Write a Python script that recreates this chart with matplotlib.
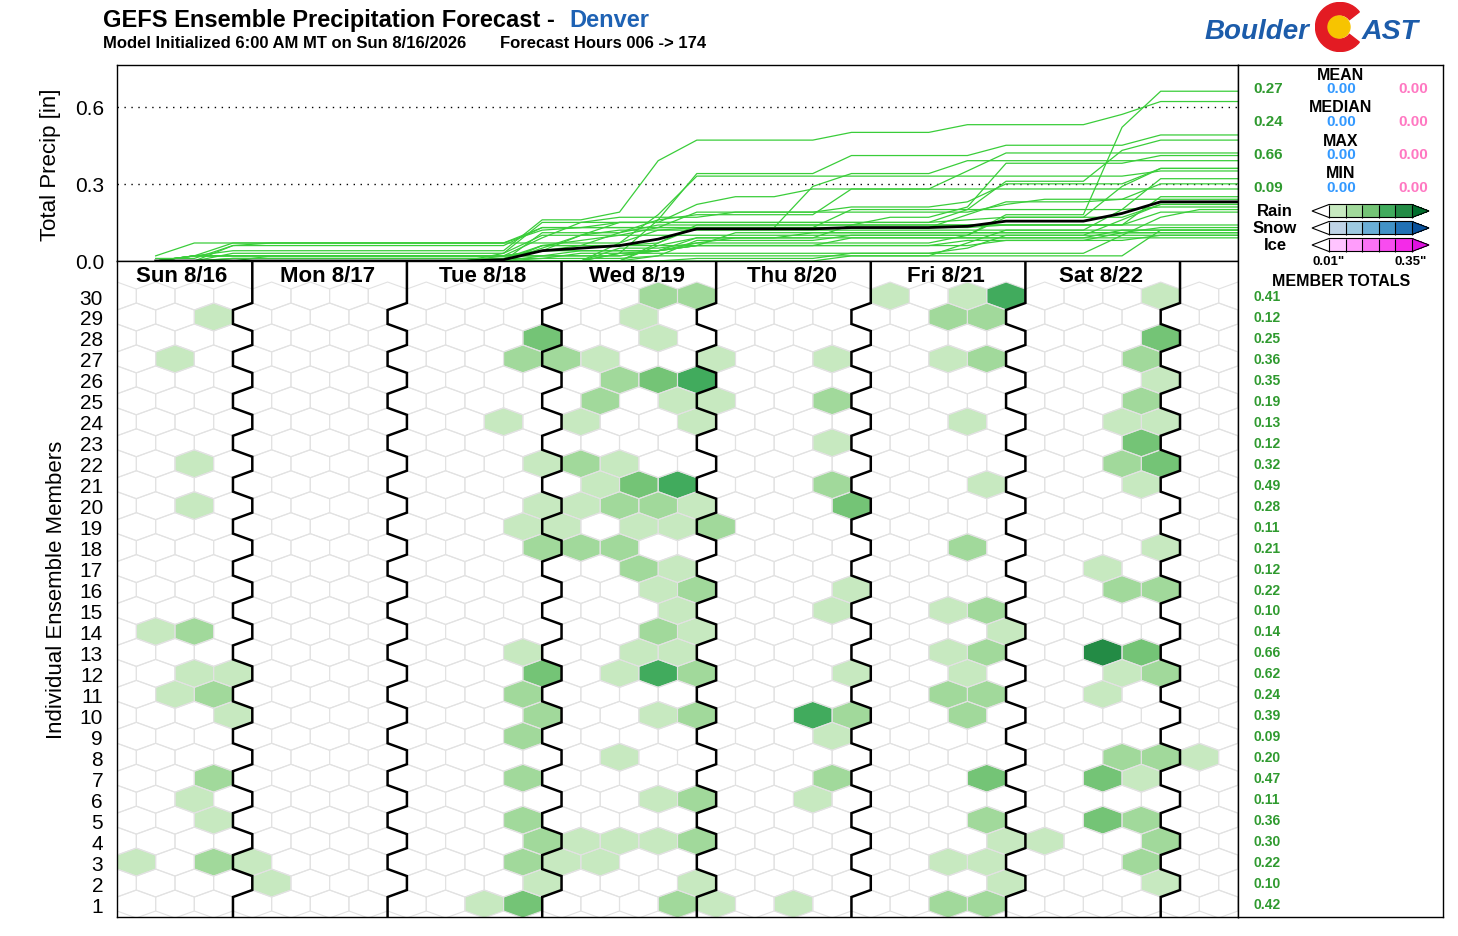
import numpy as np
import matplotlib
matplotlib.use("Agg")
import matplotlib.pyplot as plt
from matplotlib.collections import PolyCollection
from matplotlib.colors import ListedColormap, BoundaryNorm
from matplotlib.cm import ScalarMappable
from matplotlib.patches import Wedge, Circle
import matplotlib.transforms as mtransforms

plt.rcParams['font.family'] = ['Liberation Sans', 'DejaVu Sans']

# ---------------- data ----------------
title_text = "GEFS Ensemble Precipitation Forecast -"
location = "Denver"
init_text = "Model Initialized 6:00 AM MT on Sun 8/16/2026"
hours_text = "Forecast Hours 006 -> 174"

forecast_hours = list(range(6, 175, 6))          # 006 ... 174 (29 steps)
day_labels = ["Sun 8/16", "Mon 8/17", "Tue 8/18", "Wed 8/19", "Thu 8/20", "Fri 8/21", "Sat 8/22"]
day_start_hours = [0, 18, 42, 66, 90, 114, 138]
day_end_hours = [18, 42, 66, 90, 114, 138, 162]

members = list(range(1, 31))
member_totals = [0.42, 0.10, 0.22, 0.30, 0.36, 0.11, 0.47, 0.20, 0.09, 0.39,
                 0.24, 0.62, 0.66, 0.14, 0.10, 0.22, 0.12, 0.21, 0.11, 0.28,
                 0.49, 0.32, 0.12, 0.13, 0.19, 0.35, 0.36, 0.25, 0.12, 0.41]

stat_names = ["MEAN", "MEDIAN", "MAX", "MIN"]
rain_stats = [0.27, 0.24, 0.66, 0.09]
snow_stats = [0.00, 0.00, 0.00, 0.00]
ice_stats = [0.00, 0.00, 0.00, 0.00]

# 6-hourly rain per member (member 1 first): forecast step (= hour / 6) and amount [in]
rain_steps = [
    [10, 11, 15, 16, 18, 22, 23],
    [4, 11, 15, 23, 27],
    [1, 3, 4, 11, 12, 13, 22, 23, 27],
    [11, 12, 13, 14, 15, 23, 24, 27],
    [3, 11, 23, 26, 27],
    [2, 14, 15, 18],
    [3, 11, 19, 23, 26, 27],
    [13, 26, 27, 28],
    [11, 19],
    [3, 11, 14, 15, 18, 19, 22],
    [2, 3, 11, 22, 23, 26],
    [2, 3, 11, 13, 14, 15, 19, 22, 26, 27],
    [11, 14, 15, 22, 23, 26, 27],
    [1, 2, 14, 15, 23],
    [15, 19, 22, 23],
    [14, 15, 19, 26, 27],
    [14, 15, 26],
    [11, 12, 13, 22, 27],
    [11, 12, 14, 15, 16],
    [2, 11, 12, 13, 14, 15, 19],
    [13, 14, 15, 19, 23, 27],
    [2, 11, 12, 13, 26, 27],
    [19, 27],
    [10, 12, 15, 22, 26, 27],
    [13, 15, 16, 19, 27],
    [13, 14, 15, 27],
    [2, 11, 12, 13, 16, 19, 22, 23, 27],
    [11, 14, 27],
    [3, 14, 22, 23],
    [14, 15, 20, 22, 23, 27],
]
rain_amounts = [
    [0.03, 0.12, 0.07, 0.03, 0.03, 0.07, 0.07],
    [0.02, 0.02, 0.02, 0.02, 0.02],
    [0.01, 0.05, 0.01, 0.05, 0.01, 0.02, 0.01, 0.01, 0.05],
    [0.06, 0.02, 0.02, 0.03, 0.06, 0.03, 0.02, 0.06],
    [0.03, 0.07, 0.07, 0.12, 0.07],
    [0.02, 0.02, 0.05, 0.02],
    [0.06, 0.07, 0.07, 0.11, 0.12, 0.04],
    [0.03, 0.07, 0.07, 0.03],
    [0.06, 0.03],
    [0.01, 0.05, 0.01, 0.06, 0.16, 0.05, 0.05],
    [0.02, 0.05, 0.06, 0.05, 0.05, 0.01],
    [0.02, 0.02, 0.12, 0.03, 0.20, 0.08, 0.03, 0.03, 0.04, 0.05],
    [0.02, 0.02, 0.03, 0.03, 0.08, 0.34, 0.14],
    [0.02, 0.05, 0.05, 0.01, 0.01],
    [0.01, 0.02, 0.02, 0.05],
    [0.02, 0.06, 0.02, 0.06, 0.06],
    [0.06, 0.03, 0.03],
    [0.05, 0.05, 0.05, 0.05, 0.01],
    [0.01, 0.02, 0.01, 0.02, 0.05],
    [0.02, 0.02, 0.02, 0.05, 0.05, 0.02, 0.10],
    [0.03, 0.13, 0.18, 0.07, 0.04, 0.04],
    [0.02, 0.02, 0.06, 0.02, 0.08, 0.12],
    [0.02, 0.10],
    [0.02, 0.02, 0.02, 0.02, 0.03, 0.02],
    [0.05, 0.02, 0.02, 0.05, 0.05],
    [0.07, 0.11, 0.15, 0.02],
    [0.02, 0.07, 0.06, 0.02, 0.02, 0.02, 0.02, 0.07, 0.06],
    [0.11, 0.03, 0.11],
    [0.01, 0.01, 0.05, 0.05],
    [0.07, 0.07, 0.03, 0.04, 0.17, 0.03],
]

level_bounds = [0.01, 0.05, 0.10, 0.15, 0.25, 0.35]
rain_colors = ["#c7e9c0", "#a1d99b", "#74c476", "#41ab5d", "#238b45"]
rain_over = "#006d2c"
snow_colors = ["#bfd3e6", "#9ecae1", "#6baed6", "#4292c6", "#2171b5"]
snow_over = "#08519c"
ice_colors = ["#ffc4ff", "#ff9cfb", "#fb72f5", "#f84cef", "#f42ae8"]
ice_over = "#e010e0"

# ---------------- layout helpers ----------------
W, H = 1458, 937
fig = plt.figure(figsize=(W / 100, H / 100), dpi=100)


def fx(x):
    return x / W


def fy(y):
    return 1 - y / H


L, R = 117, 1238
T_TOP, T_BOT = 66, 262
H_BOT = 918
SIDE_R = 1443

ax_top = fig.add_axes([fx(L), fy(T_BOT), (R - L) / W, (T_BOT - T_TOP) / H])
ax_hex = fig.add_axes([fx(L), fy(H_BOT), (R - L) / W, (H_BOT - T_BOT) / H])
ax_side = fig.add_axes([fx(R), fy(H_BOT), (SIDE_R - R) / W, (H_BOT - T_TOP) / H])

# ---------------- derived series ----------------
step_x = np.array(forecast_hours) / 6.0
n_steps = len(forecast_hours)
rain = np.zeros((len(members), n_steps))
for i, (st, am) in enumerate(zip(rain_steps, rain_amounts)):
    for s, a in zip(st, am):
        rain[i, s - 1] = a
cum = np.cumsum(rain, axis=1)
median_cum = np.median(cum, axis=0)

rain_cmap = ListedColormap(rain_colors)
rain_cmap.set_over(rain_over)
rain_cmap.set_under("white")
rain_norm = BoundaryNorm(level_bounds, rain_cmap.N)

# ---------------- top: cumulative lines ----------------
line_green = "#3acd3a"
for i in range(len(members)):
    ax_top.plot(step_x, cum[i], color=line_green, lw=0.9, zorder=2)
ax_top.plot(step_x, median_cum, color="black", lw=2.0, zorder=3)
for v in (0.3, 0.6):
    ax_top.axhline(v, color="black", ls=(0, (1, 4)), lw=1.0, zorder=1)
ax_top.set_xlim(0, 29)
ax_top.set_ylim(0, 0.762)
ax_top.set_xticks([])
ax_top.set_yticks([0.0, 0.3, 0.6])
ax_top.set_yticklabels(["0.0", "0.3", "0.6"])
ax_top.tick_params(axis="y", length=0, pad=9, labelsize=15)
for sp in ax_top.spines.values():
    sp.set_linewidth(1.0)

# ---------------- hex panel ----------------
ybot, ytop = 0.38, 31.67
hex_off = np.array([[0, 2 / 3], [0.5, 1 / 3], [0.5, -1 / 3], [0, -2 / 3],
                    [-0.5, -1 / 3], [-0.5, 1 / 3]])


def shift(m):
    return 0.5 if m % 2 == 1 else 0.0


grid_polys = []
for m in members:
    for c in np.arange(0, 31) - shift(m):
        grid_polys.append(hex_off + [c, m])

fill_polys, fill_cols = [], []
for i, m in enumerate(members):
    for j in range(n_steps):
        a = rain[i, j]
        if a > 0:
            fill_polys.append(hex_off + [step_x[j] - shift(m), m])
            fill_cols.append(rain_cmap(rain_norm(a)))

ax_hex.add_collection(PolyCollection(fill_polys, facecolors=fill_cols,
                                     edgecolors="none", zorder=1))
ax_hex.add_collection(PolyCollection(grid_polys, facecolors="none",
                                     edgecolors="#e2e2e2", linewidths=0.8, zorder=2))

day_bounds = np.array(day_end_hours) / 6.0
for xb in day_bounds:
    xs = [xb + 0.5 - shift(members[-1])]
    ys = [ytop]
    for m in sorted(members, reverse=True):
        d = 0.5 - shift(m)
        xs += [xb + d, xb + d]
        ys += [m + 1 / 3, m - 1 / 3]
    xs.append(xb + 0.5 - shift(members[0]))
    ys.append(ybot)
    ax_hex.plot(xs, ys, color="black", lw=1.8, zorder=4, solid_joinstyle="miter")

label_x = [(a + b) / 12.0 + 0.45 for a, b in zip(day_start_hours, day_end_hours)]
label_x[0] = 1.66
for lx, lbl in zip(label_x, day_labels):
    ax_hex.text(lx, 30.70, lbl, ha="center", va="baseline", fontsize=16,
                fontweight="bold", zorder=5)

ax_hex.set_xlim(0, 29)
ax_hex.set_ylim(ybot, ytop)
ax_hex.set_xticks([])
ax_hex.set_yticks(members)
ax_hex.set_yticklabels([str(m) for m in members])
ax_hex.tick_params(axis="y", length=0, pad=10, labelsize=15)
for sp in ax_hex.spines.values():
    sp.set_linewidth(1.0)

fig.text(fx(51), fy(165), "Total Precip [in]", rotation=90, ha="center",
         va="center", fontsize=16)
fig.text(fx(57), fy(590), "Individual Ensemble Members", rotation=90,
         ha="center", va="center", fontsize=16)

# ---------------- side panel ----------------
ax_side.set_xlim(0, 1)
ax_side.set_ylim(ybot, ybot + (ytop - ybot) * (H_BOT - T_TOP) / (H_BOT - T_BOT))
ax_side.set_xticks([])
ax_side.set_yticks([])
for sp in ax_side.spines.values():
    sp.set_linewidth(1.0)

green_txt = "#2f9a2f"
blue_txt = "#3399ff"
pink_txt = "#ff78c2"
stat_title_y = [75, 108, 141, 174]
stat_val_y = [89, 122, 155, 188]
for name, ty, vy, r, s, ic in zip(stat_names, stat_title_y, stat_val_y,
                                   rain_stats, snow_stats, ice_stats):
    fig.text(fx(1341), fy(ty), name, ha="center", va="center", fontsize=11.5,
             fontweight="bold")
    fig.text(fx(1268), fy(vy), f"{r:.2f}", ha="center", va="center",
             fontsize=11, fontweight="bold", color=green_txt)
    fig.text(fx(1341), fy(vy), f"{s:.2f}", ha="center", va="center",
             fontsize=11, fontweight="bold", color=blue_txt)
    fig.text(fx(1413), fy(vy), f"{ic:.2f}", ha="center", va="center",
             fontsize=11, fontweight="bold", color=pink_txt)

for lbl, cols, over, yc in zip(["Rain", "Snow", "Ice"],
                               [rain_colors, snow_colors, ice_colors],
                               [rain_over, snow_over, ice_over],
                               [212, 229, 246]):
    fig.text(fx(1275), fy(yc), lbl, ha="center", va="center", fontsize=12,
             fontweight="bold")
    cax = fig.add_axes([fx(1312), fy(yc + 6.5), 117 / W, 13 / H])
    cm = ListedColormap(cols)
    cm.set_over(over)
    cm.set_under("white")
    nm = BoundaryNorm(level_bounds, cm.N)
    cb = fig.colorbar(ScalarMappable(norm=nm, cmap=cm), cax=cax,
                      orientation="horizontal", extend="both", extendfrac=0.205,
                      drawedges=True)
    cb.set_ticks([])
    cb.minorticks_off()
    cb.outline.set_linewidth(0.8)
    cb.dividers.set_linewidth(0.8)

fig.text(fx(1329), fy(262), '0.01"', ha="center", va="center", fontsize=9.5,
         fontweight="bold")
fig.text(fx(1411), fy(262), '0.35"', ha="center", va="center", fontsize=9.5,
         fontweight="bold")
fig.text(fx(1341), fy(281), "MEMBER TOTALS", ha="center", va="center",
         fontsize=11.5, fontweight="bold")

tr = mtransforms.blended_transform_factory(ax_side.transAxes, ax_side.transData)
for m, tot in zip(members, member_totals):
    ax_side.text(0.075, m, f"{tot:.2f}", transform=tr, ha="left", va="center",
                 fontsize=10, fontweight="bold", color=green_txt)

# ---------------- titles ----------------
fig.text(fx(103), fy(27), title_text, ha="left", va="baseline", fontsize=17,
         fontweight="bold")
fig.text(fx(569), fy(27), location, ha="left", va="baseline", fontsize=17,
         fontweight="bold", color="#1e62b4")
fig.text(fx(103), fy(48), init_text, ha="left", va="baseline", fontsize=12,
         fontweight="bold")
fig.text(fx(500), fy(48), hours_text, ha="left", va="baseline", fontsize=12,
         fontweight="bold")

# ---------------- logo ----------------
logo_blue = "#1c5caa"
fig.text(fx(1205), fy(39), "Boulder", ha="left", va="baseline", fontsize=20,
         fontweight="bold", fontstyle="italic", color=logo_blue)
fig.text(fx(1362), fy(39), "AST", ha="left", va="baseline", fontsize=20.5,
         fontweight="bold", fontstyle="italic", color=logo_blue)
ax_logo = fig.add_axes([fx(1315), fy(53), 50 / W, 50 / H])
ax_logo.set_xlim(-25, 25)
ax_logo.set_ylim(-25, 25)
ax_logo.axis("off")
ax_logo.add_patch(Wedge((0, 0), 24.5, 38, 322, width=12.5, color="#e31b23"))
ax_logo.add_patch(Circle((-1, 0), 11, color="#f7c400"))

fig.savefig("out.png", dpi=100)
